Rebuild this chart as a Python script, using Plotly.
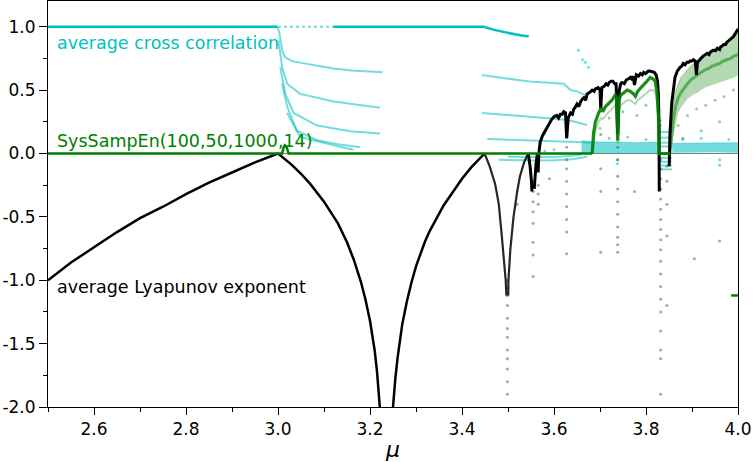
import plotly.graph_objects as go

CYAN = "#00BFBF"
CYAN_A = "rgba(0,191,191,0.55)"
GREEN = "#008000"
FONT = "DejaVu Sans"

# ---------------- average Lyapunov exponent ----------------
lyap_mu_a = [2.50, 2.55, 2.60, 2.65, 2.70, 2.75, 2.80, 2.85, 2.90, 2.95, 3.00]
lyap_a = [-1.00, -0.86, -0.74, -0.62, -0.51, -0.42, -0.32, -0.23, -0.15, -0.07, 0.00]

lyap_mu_b = [3.00, 3.01, 3.02, 3.03, 3.05, 3.07, 3.10, 3.12, 3.13, 3.15,
             3.165, 3.18, 3.19, 3.20, 3.21, 3.215, 3.22, 3.225, 3.236, 3.245,
             3.25, 3.255, 3.26, 3.27, 3.28, 3.29, 3.30, 3.32, 3.33, 3.36,
             3.38, 3.40, 3.42, 3.43, 3.44, 3.449]
lyap_b = [0.00, -0.03, -0.06, -0.09, -0.16, -0.24, -0.38, -0.49, -0.55, -0.70,
          -0.84, -1.01, -1.15, -1.32, -1.55, -1.71, -1.90, -2.17, -3.00, -2.32,
          -2.00, -1.78, -1.61, -1.35, -1.17, -1.02, -0.89, -0.69, -0.61, -0.41,
          -0.30, -0.20, -0.11, -0.07, -0.03, 0.00]

lyap_mu_c = [3.449, 3.46, 3.472, 3.48, 3.486, 3.492, 3.495, 3.4965, 3.4986,
             3.5005, 3.501, 3.505, 3.512, 3.52, 3.526, 3.535, 3.544]
lyap_c = [0.00, -0.10, -0.24, -0.40, -0.63, -0.84, -1.00, -1.12, None,
          -1.12, -1.00, -0.76, -0.50, -0.30, -0.18, -0.07, 0.00]

lyap_mu_d = [3.544, 3.548, 3.551, 3.552, 3.5546, 3.557, 3.558, 3.561, 3.564, 3.5655,
             3.567, 3.570, 3.575, 3.581, 3.588, 3.595, 3.600, 3.606, 3.610, 3.614,
             3.618, 3.621, 3.625, 3.6275, 3.631, 3.636, 3.640, 3.643, 3.647, 3.650,
             3.654, 3.658, 3.662, 3.665, 3.669, 3.672, 3.677, 3.683, 3.687, 3.690,
             3.696, 3.700, 3.7016, 3.704, 3.709, 3.713, 3.717, 3.720, 3.724, 3.728,
             3.732, 3.735, 3.7385, 3.742, 3.745, 3.748, 3.753, 3.757, 3.762, 3.766,
             3.770, 3.772, 3.775, 3.779, 3.784, 3.788, 3.792, 3.795, 3.799, 3.802,
             3.805, 3.808, 3.813, 3.818, 3.822, 3.825, 3.827, 3.8284, 3.8288, 3.840,
             3.8505, 3.852, 3.856, 3.860, 3.863, 3.868, 3.874, 3.878, 3.881, 3.885,
             3.889, 3.893, 3.896, 3.900, 3.903, 3.907, 3.9097, 3.912, 3.918, 3.922,
             3.925, 3.929, 3.933, 3.937, 3.940, 3.944, 3.947, 3.951, 3.955, 3.960,
             3.962, 3.966, 3.969, 3.973, 3.976, 3.980, 3.983, 3.987, 3.990, 3.995,
             4.000]
lyap_d = [0.00, -0.10, -0.22, -0.30, None, -0.28, -0.20, -0.08, 0.00, -0.15,
          0.00, 0.09, 0.14, 0.18, 0.23, 0.27, 0.29, 0.30, 0.28, 0.31,
          0.31, 0.33, 0.32, 0.12, 0.28, 0.32, 0.31, 0.35, 0.37, 0.39,
          0.37, 0.41, 0.43, 0.44, 0.42, 0.47, 0.48, 0.50, 0.49, 0.51,
          0.52, 0.50, 0.35, 0.52, 0.53, 0.55, 0.54, 0.56, 0.57, 0.57,
          0.55, 0.55, 0.15, 0.50, 0.55, 0.56, 0.55, 0.58, 0.59, 0.60,
          0.58, 0.61, 0.54, 0.62, 0.61, 0.63, 0.62, 0.64, 0.63, 0.645,
          0.65, 0.65, 0.645, 0.64, 0.62, 0.57, 0.47, 0.20, -0.30, None,
          -0.10, 0.15, 0.40, 0.53, 0.60, 0.65, 0.68, 0.69, 0.71, 0.70,
          0.72, 0.72, 0.73, 0.73, 0.74, 0.73, 0.62, 0.72, 0.75, 0.76,
          0.77, 0.78, 0.79, 0.78, 0.80, 0.81, 0.815, 0.81, 0.83, 0.82,
          0.84, 0.85, 0.86, 0.86, 0.88, 0.89, 0.90, 0.91, 0.92, 0.95,
          0.98]

lyap_dot_mu = [3.4986] * 12 + [3.5546] * 7 + [3.5655] * 3 + [3.6275] * 9 + [3.7016] * 4 \
    + [3.7385] * 10 + [3.8319] * 19 + [3.8453] * 5 + [3.905, 3.960, 3.775, 3.52, 3.59]
lyap_dot = [-1.00, -1.06, -1.12, -1.20, -1.30, -1.38, -1.45, -1.55, -1.62, -1.70, -1.80, -1.90,
            -0.30, -0.38, -0.46, -0.55, -0.70, -0.80, -0.97,
            -0.25, -0.32, -0.40,
            0.05, -0.05, -0.12, -0.22, -0.32, -0.42, -0.52, -0.62, -0.79,
            0.15, -0.12, -0.30, -0.78,
            0.05, -0.05, -0.18, -0.28, -0.38, -0.48, -0.58, -0.66, -0.72, -0.78,
            -0.05, -0.12, -0.20, -0.28, -0.36, -0.44, -0.52, -0.60, -0.68, -0.76,
            -0.85, -0.95, -1.05, -1.15, -1.25, -1.40, -1.55, -1.62, -1.90,
            -0.10, -0.22, -0.40, -0.65, -1.20,
            -0.83, -0.69, -0.30, -0.40, -0.20]

# ---------------- SysSampEn(100,50,1000,14) ----------------
sse_mu_a = [2.50, 3.009, 3.012, 3.015, 3.019, 3.023, 3.683]
sse_a = [0.00, 0.00, 0.045, 0.065, 0.05, 0.00, 0.00]

sse_mu_b = [3.683, 3.686, 3.690, 3.697, 3.703, 3.706, 3.712, 3.720, 3.726, 3.733,
            3.736, 3.7385, 3.741, 3.745, 3.752, 3.759, 3.766, 3.773, 3.777, 3.782,
            3.789, 3.795, 3.802, 3.809, 3.815, 3.820, 3.824, 3.827, 3.829, 3.852]
sse_b = [0.00, 0.16, 0.25, 0.32, 0.36, 0.33, 0.37, 0.40, 0.42, 0.46,
         0.44, 0.10, 0.42, 0.46, 0.48, 0.50, 0.49, 0.47, 0.45, 0.49,
         0.52, 0.54, 0.57, 0.60, 0.59, 0.57, 0.48, 0.30, 0.00, 0.00]
sse_b_lo = [0.00, 0.10, 0.18, 0.25, 0.28, 0.27, 0.30, 0.33, 0.35, 0.38,
            0.37, 0.08, 0.34, 0.38, 0.40, 0.42, 0.42, 0.40, 0.39, 0.42,
            0.44, 0.46, 0.48, 0.50, 0.50, 0.48, 0.40, 0.25, 0.00, 0.00]

sse_mu_c = [3.852, 3.856, 3.860, 3.865, 3.870, 3.876, 3.883, 3.890, 3.897, 3.905, 3.912,
            3.920, 3.928, 3.936, 3.944, 3.952, 3.960, 3.968, 3.976, 3.984, 3.992, 4.000]
sse_c_hi = [0.02, 0.25, 0.40, 0.50, 0.55, 0.60, 0.63, 0.66, 0.69, 0.71, 0.73,
            0.75, 0.77, 0.79, 0.80, 0.82, 0.84, 0.86, 0.88, 0.91, 0.95, 1.00]
sse_c_mid = [0.00, 0.15, 0.28, 0.38, 0.44, 0.48, 0.52, 0.55, 0.58, 0.60, 0.62,
             0.64, 0.66, 0.67, 0.69, 0.70, 0.71, 0.73, 0.74, 0.75, 0.77, 0.78]
sse_c_lo = [0.00, 0.05, 0.15, 0.25, 0.32, 0.36, 0.40, 0.43, 0.45, 0.47, 0.48,
            0.50, 0.52, 0.53, 0.54, 0.55, 0.56, 0.57, 0.58, 0.59, 0.60, 0.62]
sse_dot_mu = [3.70, 3.72, 3.75, 3.78, 3.80, 3.87, 3.89, 3.91, 3.93, 3.95, 3.97, 3.99, 3.96, 3.92, 3.88]
sse_dot = [0.20, 0.28, 0.33, 0.30, 0.38, 0.22, 0.30, 0.35, 0.38, 0.42, 0.45, 0.50, 0.25, 0.18, 0.12]
sse_dash_mu = [3.985, 4.000]
sse_dash = [-1.12, -1.12]

# ---------------- average cross correlation ----------------
cc_mu_top1 = [2.50, 2.999]
cc_top1 = [1.0, 1.0]
cc_mu_topdot = [3.0, 3.12]
cc_topdot = [1.0, 1.0]
cc_mu_top2 = [3.12, 3.447, 3.47, 3.498, 3.515, 3.53, 3.545]
cc_top2 = [1.0, 1.0, 0.975, 0.95, 0.94, 0.93, 0.925]

cc_mu_br_a = [2.999, 3.003, 3.006, 3.01, 3.015, 3.03, 3.05, 3.08, 3.12, 3.16, 3.20, 3.228]
cc_br_a = [1.0, 0.95, 0.88, 0.80, 0.76, 0.73, 0.715, 0.695, 0.67, 0.655, 0.645, 0.64]
cc_mu_br_b = [3.001, 3.009, 3.020, 3.048, 3.121, 3.222]
cc_br_b = [0.89, 0.68, 0.55, 0.47, 0.41, 0.36]
cc_mu_br_c = [3.005, 3.016, 3.034, 3.085, 3.157, 3.222]
cc_br_c = [0.68, 0.47, 0.32, 0.22, 0.176, 0.158]
cc_mu_br_d = [3.009, 3.02, 3.041, 3.085, 3.135, 3.179]
cc_br_d = [0.55, 0.37, 0.18, 0.105, 0.07, 0.05]
cc_mu_br_e = [3.02, 3.048, 3.121, 3.164]
cc_br_e = [0.32, 0.13, 0.065, 0.03]

cc_mu_br_f = [3.443, 3.47, 3.50, 3.53, 3.556, 3.585, 3.621, 3.636, 3.650, 3.668]
cc_br_f = [0.62, 0.605, 0.59, 0.575, 0.565, 0.56, 0.55, 0.50, 0.49, 0.46]
cc_mu_br_g = [3.443, 3.50, 3.556, 3.60, 3.635, 3.672]
cc_br_g = [0.32, 0.305, 0.29, 0.275, 0.26, 0.225]
cc_mu_br_h = [3.455, 3.50, 3.55, 3.60, 3.65, 3.68]
cc_br_h = [0.115, 0.11, 0.105, 0.10, 0.09, 0.085]
cc_mu_br_i = [3.48, 3.52, 3.56, 3.60, 3.64, 3.672]
cc_br_i = [-0.05, -0.055, -0.055, -0.053, -0.045, -0.025]
cc_mu_br_j = [3.50, 3.55, 3.60, 3.66]
cc_br_j = [-0.025, -0.03, -0.03, -0.01]

cc_band_mu_a = [3.66, 3.70, 3.74, 3.78, 3.82, 3.829]
cc_band_a_hi = [0.10, 0.09, 0.09, 0.085, 0.09, 0.09]
cc_band_a_lo = [0.0, 0.0, 0.005, 0.005, 0.0, 0.0]
cc_band_mu_b = [3.857, 3.90, 3.95, 4.0]
cc_band_b_hi = [0.08, 0.08, 0.08, 0.085]
cc_band_b_lo = [0.005, 0.01, 0.01, 0.005]

cc_win_mu = [3.829, 3.856]
cc_win_levels = [0.17, 0.125, 0.085, 0.055, -0.035, -0.065, -0.095, -0.125]

cc_dot_mu = [3.653, 3.662, 3.668, 3.675, 3.738, 3.738, 3.96, 3.96, 3.831, 3.831, 3.60, 3.58,
             3.72, 3.76, 3.80, 3.88, 3.92, 3.98]
cc_dot = [0.815, 0.74, 0.72, 0.68, -0.05, -0.08, -0.05, -0.09, 0.22, 0.26, 0.03, 0.02,
          0.12, 0.13, 0.11, 0.11, 0.12, 0.11]

# tick labels
x_tickvals = [2.6, 2.8, 3.0, 3.2, 3.4, 3.6, 3.8, 4.0]
x_ticktext = ["2.6", "2.8", "3.0", "3.2", "3.4", "3.6", "3.8", "4.0"]
y_tickvals = [-2.0, -1.5, -1.0, -0.5, 0.0, 0.5, 1.0]
y_ticktext = ["-2.0", "-1.5", "-1.0", "-0.5", "0.0", "0.5", "1.0"]

fig = go.Figure()


def line(x, y, color, width, dash=None, opacity=1.0, fill=None, fillcolor=None):
    fig.add_trace(go.Scatter(x=x, y=y, mode="lines", opacity=opacity,
                             line=dict(color=color, width=width, dash=dash),
                             fill=fill, fillcolor=fillcolor,
                             hoverinfo="skip", showlegend=False))


def dots(x, y, color, size):
    fig.add_trace(go.Scatter(x=x, y=y, mode="markers", marker=dict(color=color, size=size),
                             hoverinfo="skip", showlegend=False))


# grey zero line
line([2.5, 4.0], [0, 0], "rgba(90,90,90,0.8)", 1)

# cross correlation (cyan)
line(cc_mu_top1, cc_top1, CYAN, 2.5)
line(cc_mu_topdot, cc_topdot, CYAN_A, 2, dash="dot")
line(cc_mu_top2, cc_top2, CYAN, 2.5)
for mx, vy in [(cc_mu_br_a, cc_br_a), (cc_mu_br_b, cc_br_b), (cc_mu_br_c, cc_br_c),
               (cc_mu_br_d, cc_br_d), (cc_mu_br_e, cc_br_e), (cc_mu_br_f, cc_br_f),
               (cc_mu_br_g, cc_br_g), (cc_mu_br_h, cc_br_h), (cc_mu_br_i, cc_br_i),
               (cc_mu_br_j, cc_br_j)]:
    line(mx, vy, CYAN_A, 2.0)
line(cc_band_mu_a, cc_band_a_lo, "rgba(0,191,191,0)", 0)
line(cc_band_mu_a, cc_band_a_hi, "rgba(0,191,191,0.4)", 1, fill="tonexty",
     fillcolor="rgba(0,191,191,0.55)")
line(cc_band_mu_b, cc_band_b_lo, "rgba(0,191,191,0)", 0)
line(cc_band_mu_b, cc_band_b_hi, "rgba(0,191,191,0.4)", 1, fill="tonexty",
     fillcolor="rgba(0,191,191,0.55)")
win_x, win_y = [], []
for lv in cc_win_levels:
    win_x += cc_win_mu + [None]
    win_y += [lv, lv, None]
line(win_x, win_y, CYAN_A, 2.0)
dots(cc_dot_mu, cc_dot, CYAN_A, 3)

# SysSampEn cloud (green)
line(sse_mu_c, sse_c_lo, "rgba(0,128,0,0)", 0)
line(sse_mu_c, sse_c_hi, "rgba(0,128,0,0.3)", 1, fill="tonexty",
     fillcolor="rgba(0,128,0,0.3)")
line(sse_mu_c, sse_c_mid, "rgba(0,128,0,0.5)", 3)
line(sse_mu_b, sse_b_lo, "rgba(0,128,0,0.3)", 2)
dots(sse_dot_mu, sse_dot, "rgba(0,128,0,0.4)", 3)

# Lyapunov exponent (black)
dots(lyap_dot_mu, lyap_dot, "rgba(60,60,60,0.45)", 3)
line(lyap_mu_a, lyap_a, "black", 2.5)
line(lyap_mu_b, lyap_b, "black", 2.5)
line(lyap_mu_c, lyap_c, "rgba(0,0,0,0.85)", 2.2)
line(lyap_mu_d, lyap_d, "black", 3)

# SysSampEn lines
line(sse_mu_a, sse_a, GREEN, 2.5)
line(sse_mu_b, sse_b, "rgba(0,128,0,0.9)", 3.2)
line(sse_dash_mu, sse_dash, GREEN, 2.5)

ann_font = dict(family=FONT, size=17.5)
fig.add_annotation(x=2.516, y=0.868, xref="x", yref="y", text="average cross correlation",
                   showarrow=False, xanchor="left", yanchor="middle",
                   font=dict(ann_font, color=CYAN))
fig.add_annotation(x=2.516, y=0.099, xref="x", yref="y", text="SysSampEn(100,50,1000,14)",
                   showarrow=False, xanchor="left", yanchor="middle",
                   font=dict(ann_font, color=GREEN))
fig.add_annotation(x=2.516, y=-1.053, xref="x", yref="y", text="average Lyapunov exponent",
                   showarrow=False, xanchor="left", yanchor="middle",
                   font=dict(ann_font, color="black"))

axis_common = dict(showgrid=False, zeroline=False, showline=True, mirror=True,
                   linecolor="black", linewidth=1, ticks="outside", tickcolor="black",
                   tickwidth=1, tickfont=dict(family=FONT, size=17, color="black"))
fig.update_xaxes(range=[2.5, 4.0], tickmode="array", tickvals=x_tickvals, ticktext=x_ticktext,
                 ticklen=7,
                 minor=dict(ticks="outside", tick0=2.5, dtick=0.1, ticklen=4, tickcolor="black"),
                 title=dict(text="μ", font=dict(family=FONT, size=22, style="italic", color="black"),
                            standoff=4),
                 **axis_common)
fig.update_yaxes(range=[-2.0, 1.203], tickmode="array", tickvals=y_tickvals, ticktext=y_ticktext,
                 ticklen=8,
                 minor=dict(ticks="outside", tick0=0, dtick=0.25, ticklen=4, tickcolor="black"),
                 **axis_common)
fig.update_layout(width=753, height=462, margin=dict(l=48, r=15, t=1, b=55),
                  paper_bgcolor="white", plot_bgcolor="white",
                  font=dict(family=FONT), showlegend=False)

fig.write_html("out.html", config={"displayModeBar": False},
               post_script="document.body.style.margin='0px';")
